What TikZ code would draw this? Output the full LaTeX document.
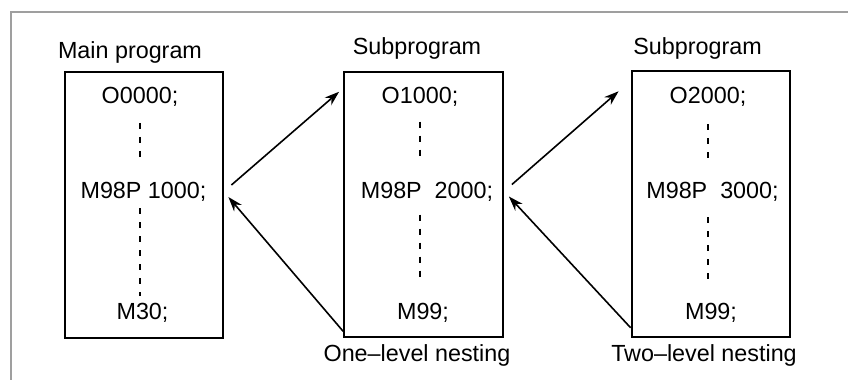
\documentclass[tikz,border=0pt]{standalone}
\usepackage{fontspec}
\setmainfont{Liberation Sans}
\usetikzlibrary{arrows.meta}

\begin{document}
\begin{tikzpicture}[x=0.75pt,y=-0.75pt,
    font=\fontsize{17.5}{21}\selectfont,
    prog/.style={draw, line width=1.6pt, minimum width=119pt, minimum height=199pt, inner sep=0pt},
    line/.style={inner sep=0pt},
    dots/.style={line width=1.9pt, dash pattern=on 4.5pt off 6pt},
    call/.style={-{Stealth[length=11pt,width=7.5pt]}, line width=1.2pt}]
  \useasboundingbox (0,0) rectangle (848,380);
  \draw[gray!75, line width=1.5pt] (848,12) -- (11,12) -- (11,380);

  % Main program
  \node[prog] (main) at (144,205) {};
  \node (mainT) at (130,52) {Main program};
  \node[line] (o0) at (140,97) {O0000;};
  \node[line] (call1) at (143.5,192) {M98P 1000;};
  \node[line] (m30) at (142.5,313) {M30;};
  \draw[dots, shorten <=12pt, shorten >=22pt] (o0) -- (o0 |- call1);
  \draw[dots, shorten <=12pt, shorten >=13pt] (o0 |- call1) -- (o0 |- m30);

  % First subprogram
  \node[prog] (sub1) at (423.5,204.5) {};
  \node (sub1T) at (417,48) {Subprogram};
  \node[line] (o1) at (420,97) {O1000;};
  \node[line] (call2) at (427,192) {M98P\ \ 2000;};
  \node[line] (m99a) at (423,313) {M99;};
  \node (nest1) at (417,355) {One--level nesting};
  \draw[dots, shorten <=11pt, shorten >=24pt] (o1) -- (o1 |- call2);
  \draw[dots, shorten <=17pt, shorten >=26pt] (o1 |- call2) -- (o1 |- m99a);

  % Second subprogram
  \node[prog] (sub2) at (711,204) {};
  \node (sub2T) at (697.5,48) {Subprogram};
  \node[line] (o2) at (708,97) {O2000;};
  \node[line] (call3) at (712.5,192) {M98P\ \ 3000;};
  \node[line] (m99b) at (711,313) {M99;};
  \node (nest2) at (704,355) {Two--level nesting};
  \draw[dots, shorten <=13pt, shorten >=22pt] (o2) -- (o2 |- call3);
  \draw[dots, shorten <=19pt, shorten >=20pt] (o2 |- call3) -- (o2 |- m99b);

  % Calls and returns
  \draw[call] ([shift={(7,-20)}]main.east) -- ([shift={(-4,21)}]sub1.north west);
  \draw[call] ([shift={(0,-7)}]sub1.south west) -- ([shift={(4,-8)}]main.east);
  \draw[call] ([shift={(8,-20)}]sub1.east) -- ([shift={(-12,21)}]sub2.north west);
  \draw[call] ([shift={(0,-10)}]sub2.south west) -- ([shift={(5,-8)}]sub1.east);
\end{tikzpicture}
\end{document}
